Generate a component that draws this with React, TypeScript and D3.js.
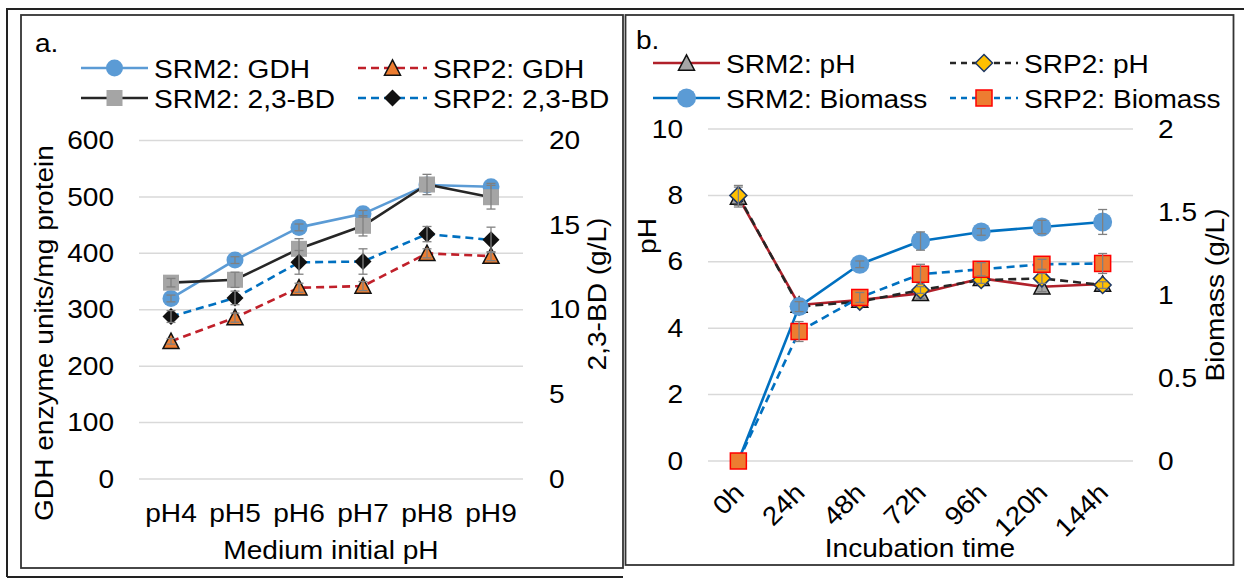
import React from "react";
import * as d3 from "d3";

// ---------- Panel a data ----------
const phCategories = ["pH4", "pH5", "pH6", "pH7", "pH8", "pH9"];
const srm2Gdh = [320, 388, 446, 470, 521, 518];
const srm2GdhErr = [6, 6, 6, 6, 5, 6];
const srp2Gdh = [244, 286, 339, 342, 400, 395];
const srp2GdhErr = [5, 8, 8, 8, 8, 8];
const srm2Bd = [11.6, 11.77, 13.6, 14.96, 17.4, 16.65]; // g/L
const srm2BdErr = [0.25, 0.45, 0.6, 0.6, 0.6, 0.7];
const srp2Bd = [9.6, 10.7, 12.8, 12.85, 14.47, 14.13]; // g/L
const srp2BdErr = [0.35, 0.4, 0.7, 0.75, 0.45, 0.75];
const gdhTicks = [0, 100, 200, 300, 400, 500, 600];
const bdTicks = [0, 5, 10, 15, 20];

// ---------- Panel b data ----------
const timeCategories = ["0h", "24h", "48h", "72h", "96h", "120h", "144h"];
const srm2Ph = [7.95, 4.7, 4.85, 5.05, 5.5, 5.25, 5.33];
const srm2PhErr = [0.3, 0.15, 0.1, 0.15, 0.1, 0.15, 0.1];
const srp2Ph = [8.0, 4.65, 4.8, 5.15, 5.45, 5.5, 5.3];
const srp2PhErr = [0.3, 0.1, 0.1, 0.1, 0.1, 0.15, 0.1];
const srm2Bio = [0, 0.93, 1.185, 1.325, 1.38, 1.41, 1.44];
const srm2BioErr = [0, 0.03, 0.02, 0.055, 0.02, 0.04, 0.075];
const srp2Bio = [0, 0.78, 0.985, 1.125, 1.155, 1.185, 1.19];
const srp2BioErr = [0, 0.06, 0.03, 0.06, 0.04, 0.03, 0.06];
const phTicks = [0, 2, 4, 6, 8, 10];
const bioTicks = [0, 0.5, 1, 1.5, 2];

const FONT = "'Liberation Sans', Arial, sans-serif";
const FS = 26;
const SX = 1.08;

type LabelProps = {
  x: number;
  y: number;
  rotate?: number;
  anchor?: string;
  baseline?: string;
  size?: number;
  children: React.ReactNode;
};

function Label({ x, y, rotate = 0, anchor = "start", baseline = "central", size = FS, children }: LabelProps) {
  return (
    <text
      transform={`translate(${x},${y}) rotate(${rotate}) scale(${SX},1)`}
      textAnchor={anchor}
      dominantBaseline={baseline}
      fontSize={size}
      fontFamily={FONT}
      fill="#000"
    >
      {children}
    </text>
  );
}

type MarkerSpec = { shape: string; fill: string; stroke?: string; size: number };

function Marker({ x, y, spec }: { x: number; y: number; spec: MarkerSpec }) {
  const s = spec.size;
  const sw = spec.stroke ? 1.5 : 0;
  const stroke = spec.stroke || "none";
  if (spec.shape === "circle")
    return <circle cx={x} cy={y} r={s / 2} fill={spec.fill} stroke={stroke} strokeWidth={sw} />;
  if (spec.shape === "square")
    return <rect x={x - s / 2} y={y - s / 2} width={s} height={s} fill={spec.fill} stroke={stroke} strokeWidth={sw} />;
  if (spec.shape === "triangle") {
    const h = s * 0.9;
    const p = `${x},${y - h / 2 - 1} ${x + s / 2},${y + h / 2} ${x - s / 2},${y + h / 2}`;
    return <polygon points={p} fill={spec.fill} stroke={stroke} strokeWidth={sw} strokeLinejoin="miter" />;
  }
  const p = `${x},${y - s / 2} ${x + s / 2},${y} ${x},${y + s / 2} ${x - s / 2},${y}`;
  return <polygon points={p} fill={spec.fill} stroke={stroke} strokeWidth={sw} />;
}

type Series = {
  values: number[];
  errs: number[];
  y: d3.ScaleLinear<number, number>;
  color: string;
  width: number;
  dash?: string;
  marker: MarkerSpec;
  skipMarker?: number[];
};

function SeriesG({ s, xPos }: { s: Series; xPos: (i: number) => number }) {
  const line = d3
    .line<number>()
    .x((_, i) => xPos(i))
    .y((d) => s.y(d));
  return (
    <g>
      <path d={line(s.values) || ""} fill="none" stroke={s.color} strokeWidth={s.width} strokeDasharray={s.dash} strokeLinejoin="round" />
      {s.values.map((v, i) =>
        s.skipMarker && s.skipMarker.includes(i) ? null : <Marker key={"m" + i} x={xPos(i)} y={s.y(v)} spec={s.marker} />
      )}
      {s.values.map((v, i) => {
        const e = s.errs[i];
        if (!e) return null;
        const cx = xPos(i);
        const y1 = s.y(v + e);
        const y2 = s.y(v - e);
        return (
          <g key={"e" + i} stroke="#808080" strokeWidth={1.3}>
            <line x1={cx} x2={cx} y1={y1} y2={y2} />
            <line x1={cx - 4.5} x2={cx + 4.5} y1={y1} y2={y1} />
            <line x1={cx - 4.5} x2={cx + 4.5} y1={y2} y2={y2} />
          </g>
        );
      })}
    </g>
  );
}

function LegendItem({ x1, x2, y, color, dash, width, marker, text }: { x1: number; x2: number; y: number; color: string; dash?: string; width: number; marker: MarkerSpec; text: string }) {
  return (
    <g>
      <line x1={x1} x2={x2} y1={y} y2={y} stroke={color} strokeWidth={width} strokeDasharray={dash} />
      <Marker x={(x1 + x2) / 2} y={y} spec={marker} />
      <Label x={x2 + 6} y={y + 1}>{text}</Label>
    </g>
  );
}

export default function App() {
  // ----- Panel a scales -----
  const xa = d3.scaleBand<string>().domain(phCategories).range([139, 523]);
  const xaPos = (i: number) => (xa(phCategories[i]) as number) + xa.bandwidth() / 2;
  const yGdh = d3.scaleLinear().domain([0, 600]).range([479, 140.5]);
  const yBd = d3.scaleLinear().domain([0, 20]).range([479, 140.5]);

  // ----- Panel b scales -----
  const xb = d3.scaleBand<string>().domain(timeCategories).range([708, 1133]);
  const xbPos = (i: number) => (xb(timeCategories[i]) as number) + xb.bandwidth() / 2;
  const yPh = d3.scaleLinear().domain([0, 10]).range([461, 129]);
  const yBio = d3.scaleLinear().domain([0, 2]).range([461, 129]);

  const mCircleA: MarkerSpec = { shape: "circle", fill: "#5B9BD5", size: 17 };
  const mSquareA: MarkerSpec = { shape: "square", fill: "#A5A5A5", size: 16 };
  const mTriA: MarkerSpec = { shape: "triangle", fill: "#ED7D31", stroke: "#111", size: 16 };
  const mDiaA: MarkerSpec = { shape: "diamond", fill: "#111", size: 17 };

  const mTriB: MarkerSpec = { shape: "triangle", fill: "#A5A5A5", stroke: "#111", size: 16 };
  const mDiaB: MarkerSpec = { shape: "diamond", fill: "#FFC000", stroke: "#1F3864", size: 17 };
  const mCircleB: MarkerSpec = { shape: "circle", fill: "#5B9BD5", size: 19 };
  const mSquareB: MarkerSpec = { shape: "square", fill: "#ED7D31", stroke: "#FF0000", size: 16 };

  const seriesA: Series[] = [
    { values: srm2Gdh, errs: srm2GdhErr, y: yGdh, color: "#5B9BD5", width: 2.6, marker: mCircleA },
    { values: srp2Gdh, errs: srp2GdhErr, y: yGdh, color: "#C0202A", width: 2.6, dash: "8,5", marker: mTriA },
    { values: srm2Bd, errs: srm2BdErr, y: yBd, color: "#262626", width: 2.6, marker: mSquareA },
    { values: srp2Bd, errs: srp2BdErr, y: yBd, color: "#0070C0", width: 2.6, dash: "8,5", marker: mDiaA },
  ];
  const seriesB: Series[] = [
    { values: srm2Ph, errs: srm2PhErr, y: yPh, color: "#B0202A", width: 2.6, marker: mTriB },
    { values: srp2Ph, errs: srp2PhErr, y: yPh, color: "#262626", width: 2.6, dash: "8,5", marker: mDiaB },
    { values: srm2Bio, errs: srm2BioErr, y: yBio, color: "#0070C0", width: 2.6, marker: mCircleB, skipMarker: [0] },
    { values: srp2Bio, errs: srp2BioErr, y: yBio, color: "#0070C0", width: 2.6, dash: "8,5", marker: mSquareB },
  ];

  return (
    <svg width={1244} height={578} style={{ position: "absolute", left: 0, top: 0, background: "#fff" }}>
      <rect x={0} y={0} width={1244} height={578} fill="#fff" />
      {/* outer frame */}
      <g stroke="#222" strokeWidth={2} fill="none">
        <line x1={6} x2={1244} y1={9} y2={9} />
        <line x1={7} x2={7} y1={9} y2={577} />
        <line x1={7} x2={623} y1={577} y2={577} />
      </g>
      <rect x={21} y={15} width={602} height={553} fill="none" stroke="#333" strokeWidth={1.8} />
      <rect x={625.5} y={15} width={608} height={550} fill="none" stroke="#333" strokeWidth={1.8} />

      {/* ================= Panel a ================= */}
      <Label x={35} y={43}>a.</Label>
      <LegendItem x1={81} x2={148} y={68} color="#5B9BD5" width={2.6} marker={mCircleA} text="SRM2: GDH" />
      <LegendItem x1={81} x2={148} y={98} color="#262626" width={2.6} marker={mSquareA} text="SRM2: 2,3-BD" />
      <LegendItem x1={358} x2={427} y={68} color="#C0202A" width={2.6} dash="8,5" marker={mTriA} text="SRP2: GDH" />
      <LegendItem x1={358} x2={427} y={98} color="#0070C0" width={2.6} dash="8,5" marker={mDiaA} text="SRP2: 2,3-BD" />

      {gdhTicks.map((t) => (
        <line key={"ga" + t} x1={139} x2={523} y1={yGdh(t)} y2={yGdh(t)} stroke="#D9D9D9" strokeWidth={1.5} />
      ))}
      {gdhTicks.map((t) => (
        <Label key={"la" + t} x={114} y={yGdh(t)} anchor="end">{String(t)}</Label>
      ))}
      {bdTicks.map((t) => (
        <Label key={"ra" + t} x={549} y={yBd(t)} anchor="start">{String(t)}</Label>
      ))}
      {phCategories.map((c, i) => (
        <Label key={"xa" + c} x={xaPos(i)} y={513} anchor="middle">{c}</Label>
      ))}
      <Label x={331} y={550} anchor="middle">Medium initial pH</Label>
      <Label x={53} y={333} rotate={-90} anchor="middle" baseline="auto">GDH enzyme units/mg protein</Label>
      <Label x={606} y={294} rotate={-90} anchor="middle" baseline="auto">2,3-BD (g/L)</Label>

      {seriesA.map((s, k) => (
        <SeriesG key={"sa" + k} s={s} xPos={xaPos} />
      ))}

      {/* ================= Panel b ================= */}
      <Label x={636} y={40}>b.</Label>
      <LegendItem x1={653} x2={720} y={63} color="#B0202A" width={2.6} marker={mTriB} text="SRM2: pH" />
      <LegendItem x1={653} x2={720} y={98} color="#0070C0" width={2.6} marker={mCircleB} text="SRM2: Biomass" />
      <LegendItem x1={950} x2={1018} y={63} color="#262626" width={2.6} dash="6,5" marker={mDiaB} text="SRP2: pH" />
      <LegendItem x1={950} x2={1018} y={98} color="#0070C0" width={2.6} dash="6,5" marker={mSquareB} text="SRP2: Biomass" />

      {phTicks.map((t) => (
        <line key={"gb" + t} x1={708} x2={1133} y1={yPh(t)} y2={yPh(t)} stroke="#D9D9D9" strokeWidth={1.5} />
      ))}
      {phTicks.map((t) => (
        <Label key={"lb" + t} x={683} y={yPh(t)} anchor="end">{String(t)}</Label>
      ))}
      {bioTicks.map((t) => (
        <Label key={"rb" + t} x={1158} y={yBio(t)} anchor="start">{String(t)}</Label>
      ))}
      {timeCategories.map((c, i) => (
        <Label key={"xb" + c} x={xbPos(i) + 1} y={488} rotate={-45} anchor="end">{c}</Label>
      ))}
      <Label x={920} y={548} anchor="middle">Incubation time</Label>
      <Label x={656} y={236} rotate={-90} anchor="middle" baseline="auto">pH</Label>
      <Label x={1224} y={295} rotate={-90} anchor="middle" baseline="auto">Biomass (g/L)</Label>

      {seriesB.map((s, k) => (
        <SeriesG key={"sb" + k} s={s} xPos={xbPos} />
      ))}
    </svg>
  );
}
